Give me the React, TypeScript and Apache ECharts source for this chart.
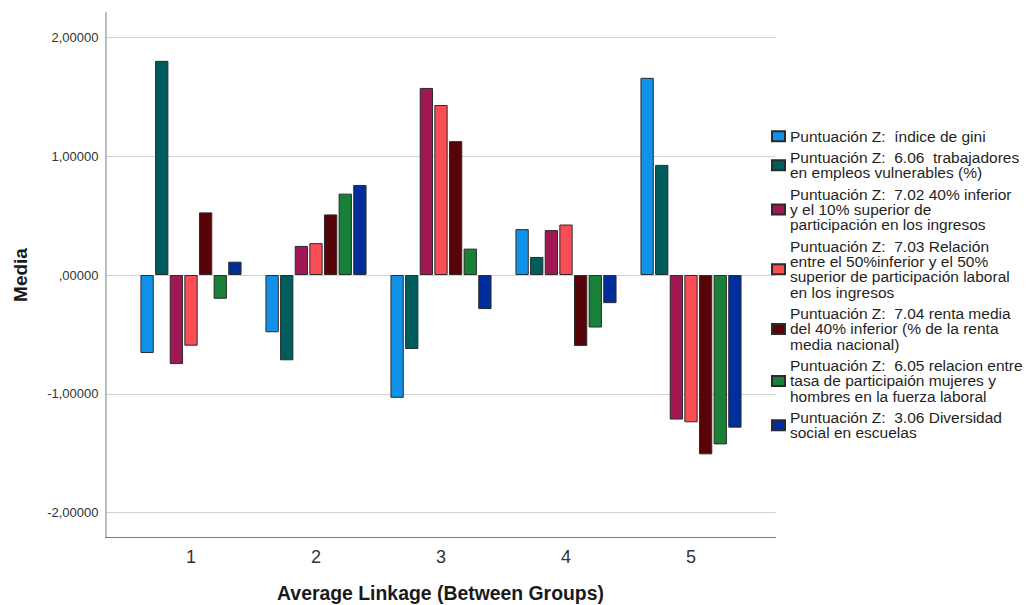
import React, { useEffect, useRef } from "react";
import * as echarts from "echarts";

const categories = ["1", "2", "3", "4", "5"];

const seriesNames = [
  "Puntuación Z:  índice de gini",
  "Puntuación Z:  6.06  trabajadores en empleos vulnerables (%)",
  "Puntuación Z:  7.02 40% inferior y el 10% superior de participación en los ingresos",
  "Puntuación Z:  7.03 Relación entre el 50%inferior y el 50% superior de participación laboral en los ingresos",
  "Puntuación Z:  7.04 renta media del 40% inferior (% de la renta media nacional)",
  "Puntuación Z:  6.05 relacion entre tasa de participaión mujeres y hombres en la fuerza laboral",
  "Puntuación Z:  3.06 Diversidad social en escuelas",
];

// legend texts as broken in the original
const legendLabels = [
  "Puntuación Z:  índice de gini",
  "Puntuación Z:  6.06  trabajadores\nen empleos vulnerables (%)",
  "Puntuación Z:  7.02 40% inferior\ny el 10% superior de\nparticipación en los ingresos",
  "Puntuación Z:  7.03 Relación\nentre el 50%inferior y el 50%\nsuperior de participación laboral\nen los ingresos",
  "Puntuación Z:  7.04 renta media\ndel 40% inferior (% de la renta\nmedia nacional)",
  "Puntuación Z:  6.05 relacion entre\ntasa de participaión mujeres y\nhombres en la fuerza laboral",
  "Puntuación Z:  3.06 Diversidad\nsocial en escuelas",
];

const colors = ["#1192e8", "#005d5d", "#9f1853", "#fa4d56", "#570408", "#198038", "#002d9c"];

// means per cluster 1..5
const gini = [-0.657, -0.482, -1.034, 0.386, 1.66];
const vulnerables = [1.803, -0.718, -0.623, 0.152, 0.927];
const ingresos40 = [-0.75, 0.245, 1.575, 0.378, -1.217];
const relacion50 = [-0.595, 0.268, 1.431, 0.425, -1.24];
const rentaMedia = [0.527, 0.51, 1.127, -0.597, -1.51];
const mujeresHombres = [-0.2, 0.685, 0.222, -0.442, -1.426];
const diversidad = [0.112, 0.758, -0.287, -0.237, -1.285];

const seriesValues = [gini, vulnerables, ingresos40, relacion50, rentaMedia, mujeresHombres, diversidad];

const yMin = -2.21;
const yMax = 2.21;

const font = "'Liberation Sans', Arial, sans-serif";

const formatTick = (v: number) => {
  const r = Math.round(v * 1e5) / 1e5;
  let s = Math.abs(r).toFixed(5).replace(".", ",");
  if (s.startsWith("0,")) s = s.slice(1);
  return (r < 0 ? "-" : "") + s;
};

const App: React.FC = () => {
  const chartRef = useRef<HTMLDivElement>(null);

  useEffect(() => {
    if (!chartRef.current) return;
    const chart = echarts.init(chartRef.current, undefined, { renderer: "svg" });

    const option: any = {
      animation: false,
      backgroundColor: "#ffffff",
      textStyle: { fontFamily: font },
      grid: [
        { left: 105.5, top: 12.5, width: 670, height: 525, outerBoundsMode: "none" },
        { left: 128.5, top: 12.5, width: 625, height: 525, outerBoundsMode: "none" },
      ],
      xAxis: [
        {
          gridIndex: 0,
          type: "value",
          min: 0,
          max: 1,
          name: "Average Linkage (Between Groups)",
          nameLocation: "middle",
          nameGap: 45.5,
          nameTextStyle: { fontFamily: font, fontSize: 19.4, fontWeight: "bold", color: "#1a1a1a" },
          axisLine: { show: true, onZero: false, lineStyle: { color: "#7a7a7a", width: 1 } },
          axisTick: { show: false },
          axisLabel: { show: false },
          splitLine: { show: false },
        },
        {
          gridIndex: 1,
          type: "category",
          data: categories,
          axisLine: { show: false, onZero: false },
          axisTick: { show: false },
          axisLabel: { fontFamily: font, fontSize: 18, color: "#333333", margin: 10 },
          splitLine: { show: false },
        },
      ],
      yAxis: [
        {
          gridIndex: 0,
          type: "value",
          min: yMin,
          max: yMax,
          splitNumber: 4,
          minInterval: 1,
          maxInterval: 1,
          name: "Media",
          nameLocation: "middle",
          nameGap: 76,
          nameTextStyle: { fontFamily: font, fontSize: 19, fontWeight: "bold", color: "#1a1a1a" },
          axisLine: { show: true, lineStyle: { color: "#a8a8a8", width: 1.5 } },
          axisTick: { show: false },
          axisLabel: {
            fontFamily: font,
            fontSize: 13,
            color: "#333333",
            margin: 7,
            showMinLabel: false,
            showMaxLabel: false,
            formatter: (v: number) => formatTick(v),
          },
          splitLine: {
            show: true,
            showMinLine: false,
            showMaxLine: false,
            lineStyle: { color: "#d2d2d2", width: 1 },
          },
        },
        {
          gridIndex: 1,
          type: "value",
          min: yMin,
          max: yMax,
          show: false,
          splitLine: { show: false },
        },
      ],
      legend: {
        orient: "vertical",
        left: 771,
        top: 128.3,
        padding: 0,
        itemGap: 5.2,
        itemWidth: 13,
        itemHeight: 10,
        icon: "rect",
        selectedMode: false,
        data: seriesNames,
        formatter: (name: string) => legendLabels[seriesNames.indexOf(name)],
        textStyle: { fontFamily: font, fontSize: 15.5, lineHeight: 15.4, color: "#1f1f1f" },
      },
      series: seriesNames.map((name, i) => ({
        name,
        type: "bar",
        xAxisIndex: 1,
        yAxisIndex: 1,
        barWidth: 13.3,
        barGap: "10%",
        data: seriesValues[i],
        itemStyle: { color: colors[i], borderColor: "#2b2b2b", borderWidth: 1 },
      })),
    };

    chart.setOption(option);

    return () => {
      chart.dispose();
    };
  }, []);

  return (
    <div
      ref={chartRef}
      style={{ position: "absolute", left: 0, top: 0, width: 1028, height: 605 }}
    />
  );
};

export default App;
